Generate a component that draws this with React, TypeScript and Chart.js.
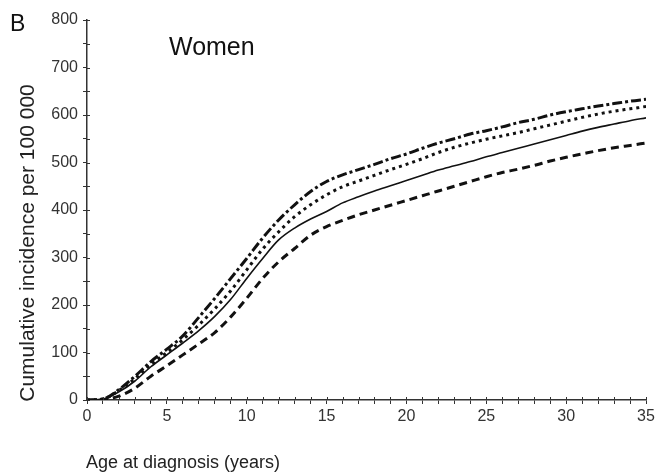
import { useEffect, useRef } from 'react';
import { Chart, registerables } from 'chart.js';

Chart.register(...registerables);

const ages = [0, 1, 2, 3, 4, 5, 6, 7, 8, 9, 10, 11, 12, 13, 14, 15, 16, 17, 18, 19, 20, 21, 22, 23, 24, 25, 26, 27, 28, 29, 30, 31, 32, 33, 34, 35];
const dashDotSeries = [0, 2, 22, 50, 81, 107, 135, 174, 214, 256, 298, 341, 379, 411, 439, 460, 474, 485, 496, 508, 518, 530, 541, 550, 560, 567, 575, 584, 591, 600, 607, 613, 619, 624, 629, 633];
const dottedSeries = [0, 2, 20, 45, 75, 100, 127, 158, 192, 230, 274, 318, 354, 386, 411, 432, 449, 461, 473, 485, 496, 508, 521, 532, 541, 549, 556, 563, 571, 579, 587, 595, 602, 608, 613, 618];
const solidSeries = [0, 2, 17, 40, 70, 95, 120, 146, 176, 212, 256, 298, 337, 362, 381, 397, 415, 428, 440, 451, 462, 473, 484, 493, 502, 512, 521, 530, 539, 548, 557, 566, 574, 581, 588, 594];
const dashedSeries = [0, 1, 8, 25, 50, 72, 95, 118, 142, 175, 214, 256, 291, 319, 347, 365, 378, 390, 400, 410, 420, 430, 440, 450, 460, 470, 479, 486, 494, 503, 511, 518, 525, 531, 536, 541];

const xTickLabelEvery = 5;
const yTickLabelEvery = 100;

const panelLetter = 'B';
const panelTitle = 'Women';
const xTitle = 'Age at diagnosis (years)';
const yTitle = 'Cumulative incidence per 100 000';

const FONT = "'Liberation Sans', Arial, sans-serif";
const INK = '#111';
const AXIS = '#333';

const toPoints = (vals: number[]) => vals.map((v, i) => ({ x: ages[i], y: v }));

const overlayPlugin = {
  id: 'overlayTexts',
  afterDraw(chart: any) {
    const ctx = chart.ctx as CanvasRenderingContext2D;
    const { left, bottom } = chart.chartArea;
    const xs = chart.scales.x;
    const ys = chart.scales.y;
    ctx.save();
    ctx.strokeStyle = AXIS;
    ctx.lineWidth = 1;
    ctx.beginPath();
    xs.ticks.forEach((t: any) => {
      const px = Math.round(xs.getPixelForValue(t.value)) + 0.5;
      ctx.moveTo(px, bottom);
      ctx.lineTo(px, bottom - 3);
    });
    ys.ticks.forEach((t: any) => {
      const py = Math.round(ys.getPixelForValue(t.value)) + 0.5;
      ctx.moveTo(left, py);
      ctx.lineTo(left + 3, py);
    });
    ctx.stroke();

    ctx.fillStyle = INK;
    ctx.textBaseline = 'alphabetic';
    ctx.textAlign = 'left';
    ctx.font = `23px ${FONT}`;
    ctx.fillText(panelLetter, 10, 31);
    ctx.font = `25px ${FONT}`;
    ctx.fillText(panelTitle, 169, 55);

    ctx.fillStyle = '#222';
    ctx.font = `18px ${FONT}`;
    ctx.textBaseline = 'middle';
    ctx.fillText(xTitle, 86, 463);

    ctx.translate(28, 243);
    ctx.rotate(-Math.PI / 2);
    ctx.textAlign = 'center';
    ctx.font = `21px ${FONT}`;
    ctx.fillText(yTitle, 0, 0);
    ctx.restore();
  },
};

export default function App() {
  const canvasRef = useRef<HTMLCanvasElement | null>(null);

  useEffect(() => {
    if (!canvasRef.current) return;
    const common = { pointRadius: 0, borderColor: INK, fill: false, cubicInterpolationMode: 'monotone' as const, borderCapStyle: 'butt' as const };
    const chart = new Chart(canvasRef.current, {
      type: 'line',
      data: {
        datasets: [
          { ...common, label: 'dash-dot', data: toPoints(dashDotSeries), borderWidth: 3, borderDash: [10, 3, 3, 3] },
          { ...common, label: 'dotted', data: toPoints(dottedSeries), borderWidth: 3, borderDash: [3, 4] },
          { ...common, label: 'solid', data: toPoints(solidSeries), borderWidth: 1.6 },
          { ...common, label: 'dashed', data: toPoints(dashedSeries), borderWidth: 3, borderDash: [8, 5] },
        ],
      },
      options: {
        responsive: false,
        animation: false,
        devicePixelRatio: 1,
        layout: { padding: { left: 0, top: 20, right: 20, bottom: 0 } },
        plugins: { legend: { display: false }, tooltip: { enabled: false }, title: { display: false } },
        scales: {
          x: {
            type: 'linear',
            min: 0,
            max: 35,
            afterFit: (s: any) => { s.height = 73; },
            border: { display: true, color: AXIS, width: 1.5 },
            grid: { display: true, drawOnChartArea: false, drawTicks: true, tickLength: 4, color: AXIS, tickColor: AXIS, tickWidth: 1 },
            ticks: {
              stepSize: 1,
              autoSkip: false,
              maxRotation: 0,
              padding: 3,
              color: '#333',
              font: { family: FONT, size: 16 },
              callback: (v: any) => (Number(v) % xTickLabelEvery === 0 ? String(v) : ''),
            },
          },
          y: {
            type: 'linear',
            min: 0,
            max: 800,
            afterFit: (s: any) => { s.width = 87; },
            border: { display: true, color: AXIS, width: 1.5 },
            grid: { display: true, drawOnChartArea: false, drawTicks: true, tickLength: 4, color: AXIS, tickColor: AXIS, tickWidth: 1 },
            ticks: {
              stepSize: 50,
              autoSkip: false,
              padding: 5,
              color: '#333',
              font: { family: FONT, size: 16 },
              callback: (v: any) => (Number(v) % yTickLabelEvery === 0 ? String(v) : ''),
            },
          },
        },
      },
      plugins: [overlayPlugin],
    });
    return () => chart.destroy();
  }, []);

  return (
    <div style={{ position: 'fixed', left: 0, top: 0, width: 666, height: 473, background: '#fff' }}>
      <canvas ref={canvasRef} width={666} height={473} style={{ display: 'block' }} />
    </div>
  );
}
